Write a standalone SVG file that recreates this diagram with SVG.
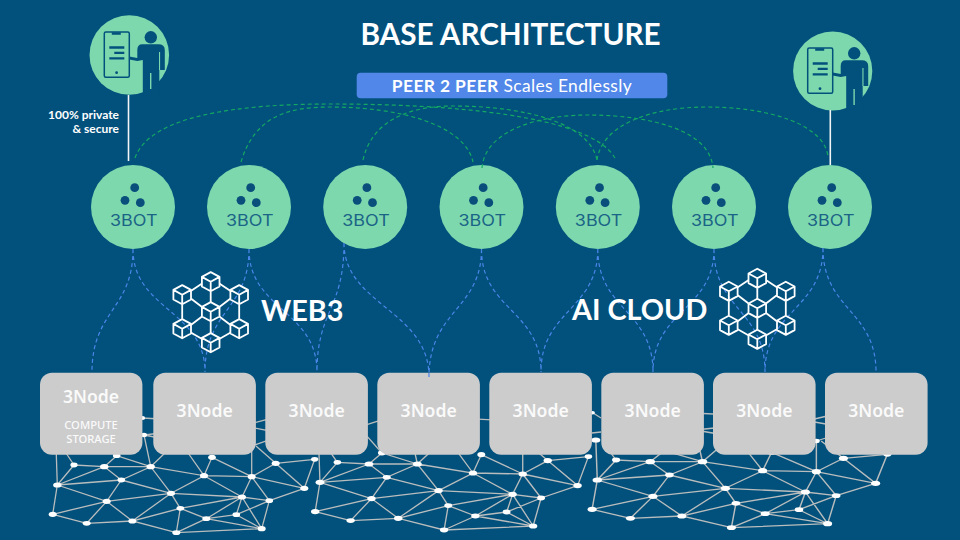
<svg xmlns="http://www.w3.org/2000/svg" xmlns:xlink="http://www.w3.org/1999/xlink" width="960" height="540" viewBox="0 0 960 540">
<style>
.sans{font-family:"Lato","Liberation Sans",sans-serif;fill:#fff}
.box{fill:#cccccc}
.nt{font-family:"Noto Sans","Liberation Sans",sans-serif;fill:#fafafa;text-anchor:middle}
.bot{fill:#7dd8ae}
.dot{fill:#0a4f7c}
.bt{font-family:"Inter","Liberation Sans",sans-serif;font-size:15.5px;fill:#1b6486;text-anchor:middle}
.grn{fill:none;stroke:#14a862;stroke-width:1.2;stroke-dasharray:4 3}
.blu{fill:none;stroke:#4a86e8;stroke-width:1.2;stroke-dasharray:4 3}
.edge{fill:none;stroke:#b9bdbd;stroke-width:1.3}
.mn{fill:#fff}
.ink{fill:#02507c}
.cube{fill:none;stroke:#fff;stroke-width:1.8;stroke-linejoin:round}
</style>
<defs>
<g id="mesh">
<path class="edge" d="M56 445L57.3 485L52.7 514.3M57.3 485L74 465L104.3 466.7L57.3 485L121.3 480L57.3 485L106.7 501.3L52.7 514.3M74 465L64 450M104.3 466.7L116.7 455.7L150.7 466.7L104.3 466.7L121.3 480L150.7 466.7L171 493.3M121.3 480L106.7 501.3M121.3 480L171 493.3M150.7 466.7L204 475.7L171 493.3M150.7 466.7L144 435M150.7 466.7L168 450M204 475.7L242 497M204 475.7L212 457.3L251.7 476.7L204 475.7M204 475.7L186 450M251.7 476.7L242 497M251.7 476.7L269.3 500.7M251.7 476.7L304.3 488.3M251.7 476.7L251.7 446M251.7 476.7L275.7 463.3L304.3 488.3L314.7 459.3M275.7 463.3L314.7 459.3M275.7 463.3L256 446M304.3 488.3L269.3 500.7M171 493.3L106.7 501.3M171 493.3L132.3 521M171 493.3L180.3 508.3M171 493.3L242 497L269.3 500.7M242 497L180.3 508.3M242 497L236.3 514.7M242 497L206.3 518.7M242 497L261.7 528.7M269.3 500.7L236.3 514.7M269.3 500.7L261.7 528.7M236.3 514.7L206.3 518.7M236.3 514.7L261.7 528.7M206.3 518.7L180.3 508.3M206.3 518.7L261.7 528.7M206.3 518.7L176.3 532.7M180.3 508.3L176.3 532.7M180.3 508.3L132.3 521L176.3 532.7L261.7 528.7M132.3 521L86.7 523.3L52.7 514.3M86.7 523.3L106.7 501.3L132.3 521M144 435L170 432M144 435L170 440M142.7 418L246 424M250 424L280 416M250 427L280 433M251.7 446L280 436M116.7 455.7L100 436M100 428L115 423"/>
<g class="mn">
<ellipse cx="74" cy="465" rx="3.6" ry="2.4"/><ellipse cx="104.3" cy="466.7" rx="4.2" ry="2.6"/><ellipse cx="150.7" cy="466.7" rx="4.2" ry="2.6"/><ellipse cx="204" cy="475.7" rx="4" ry="2.6"/><ellipse cx="251.7" cy="476.7" rx="4" ry="2.6"/><ellipse cx="275.7" cy="463.3" rx="4" ry="2.6"/><ellipse cx="304.3" cy="488.3" rx="4" ry="2.6"/><ellipse cx="314.7" cy="459.3" rx="3.6" ry="2.4"/><ellipse cx="57.3" cy="485" rx="4.2" ry="2.6"/><ellipse cx="121.3" cy="480" rx="3.8" ry="2.4"/><ellipse cx="171" cy="493.3" rx="4" ry="2.6"/><ellipse cx="242" cy="497" rx="4" ry="2.6"/><ellipse cx="269.3" cy="500.7" rx="3.8" ry="2.4"/><ellipse cx="106.7" cy="501.3" rx="4" ry="2.6"/><ellipse cx="180.3" cy="508.3" rx="3.8" ry="2.4"/><ellipse cx="236.3" cy="514.7" rx="3.8" ry="2.4"/><ellipse cx="206.3" cy="518.7" rx="4" ry="2.4"/><ellipse cx="52.7" cy="514.3" rx="4" ry="2.6"/><ellipse cx="86.7" cy="523.3" rx="4" ry="2.4"/><ellipse cx="132.3" cy="521" rx="4" ry="2.6"/><ellipse cx="176.3" cy="532.7" rx="4" ry="2.4"/><ellipse cx="261.7" cy="528.7" rx="4" ry="2.6"/><ellipse cx="212" cy="457.3" rx="3.8" ry="2.6"/><ellipse cx="116.7" cy="455.7" rx="3.8" ry="2.4"/><ellipse cx="144" cy="435" rx="3" ry="2.2"/><ellipse cx="142.7" cy="418" rx="2.4" ry="2"/><ellipse cx="56" cy="445" rx="4" ry="2.6"/><ellipse cx="251.7" cy="446" rx="3" ry="2.2"/>
</g>
</g>
<g id="cb"><path d="M0-9.6L8.8-4.8V4.8L0 9.6L-8.8 4.8V-4.8ZM-8.8-4.8L0 0L8.8-4.8M0 0V9.6"/></g>
<g id="chain" class="cube">
<use xlink:href="#cb" href="#cb" y="-30"/><use xlink:href="#cb" href="#cb" x="-28.5" y="-17"/><use xlink:href="#cb" href="#cb" x="28.5" y="-17"/><use xlink:href="#cb" href="#cb"/><use xlink:href="#cb" href="#cb" x="-28.5" y="17"/><use xlink:href="#cb" href="#cb" x="28.5" y="17"/><use xlink:href="#cb" href="#cb" y="31"/>
<path d="M-19.5-21L-9-28M19.5-21L9-28M0-20V-9M-28.5-7V7M28.5-7V7M-19.5-13L-9-5M19.5-13L9-5M-9 5L-19.5 13M9 5L19.5 13M0 10V22M-19.5 21L-9 27M19.5 21L9 27"/>
</g>
<g id="user">
<path class="ink" d="M0 1.5L8 3V-5Q8-10.7 13-10.7H29Q35.5-10.7 35.5-5V15H30V42H13.5V5L8 6L0 4.5Z"/>
<rect x="29.7" y="-3" width="1.1" height="18" class="bot"/>
<rect x="20.7" y="18" width="1.4" height="16" class="bot"/>
<rect x="-25" y="-23" width="25" height="45.3" rx="1.5" fill="none" stroke="#02507c" stroke-width="1.5"/>
<path d="M-17.5-21.5H-8.5M-20-7.5H-5M-15-2.2H-5M-20 3.3H-5" fill="none" stroke="#02507c" stroke-width="2.3"/>
<circle cx="-12.7" cy="17.7" r="1.4" class="ink"/>
<circle cx="21.5" cy="-17.7" r="6.2" class="ink"/>
</g>
<g id="botmark">
<circle r="42" class="bot"/>
<circle cx="1.7" cy="-19.3" r="4.4" class="dot"/><circle cx="-8" cy="-6.7" r="4.4" class="dot"/><circle cx="7.3" cy="-4.3" r="4.4" class="dot"/>
</g>
</defs>
<rect width="960" height="540" fill="#02507c"/>
<g id="mesh-layer">
<use xlink:href="#mesh" href="#mesh"/>
<use xlink:href="#mesh" href="#mesh" transform="matrix(1.043 0 0 1 260.2 -2.7)"/>
<use xlink:href="#mesh" href="#mesh" transform="matrix(1.127 0 0 1 532.7 -5)"/>
<path class="edge" d="M592.7 412.7L601 418M592 433L601 432"/>
<ellipse class="mn" cx="592.7" cy="412.7" rx="2.2" ry="1.8"/>
</g>
<text class="sans" x="510.5" y="45" font-size="29.7" font-weight="700" text-anchor="middle">BASE ARCHITECTURE</text>
<g id="pill"><rect x="356.7" y="72.7" width="310.6" height="25.6" rx="4" fill="#5187e8"/>
<text class="sans" x="512" y="92" font-size="17.4" text-anchor="middle" letter-spacing=".4"><tspan font-weight="700">PEER 2 PEER</tspan> Scales Endlessly</text></g>
<g id="user-left"><circle cx="129.3" cy="55" r="39.8" class="bot"/><use xlink:href="#user" href="#user" x="129.3" y="55"/></g>
<g id="user-right"><circle cx="832.7" cy="71" r="39.6" class="bot"/><use xlink:href="#user" href="#user" x="832.7" y="71"/></g>
<text class="sans" x="119" y="118.5" font-size="12" font-weight="700" text-anchor="end">100% private</text>
<text class="sans" x="119" y="133" font-size="12" font-weight="700" text-anchor="end">&amp; secure</text>
<g id="node-1"><rect class="box" x="40" y="372.7" width="102.4" height="82" rx="12"/><text class="nt" x="91" y="403.3" font-size="17.6" font-weight="600">3Node</text><text class="nt" x="91" y="429" font-size="11.2" font-weight="500">COMPUTE</text><text class="nt" x="91" y="443" font-size="11.2" font-weight="500">STORAGE</text></g>
<g id="node-2"><rect class="box" x="153.3" y="372.7" width="102.6" height="82" rx="12"/><text class="nt" x="204.7" y="417.3" font-size="17.6" font-weight="600">3Node</text></g>
<g id="node-3"><rect class="box" x="265.3" y="372.7" width="102.6" height="82" rx="12"/><text class="nt" x="316.7" y="417.3" font-size="17.6" font-weight="600">3Node</text></g>
<g id="node-4"><rect class="box" x="377.3" y="372.7" width="102.6" height="82" rx="12"/><text class="nt" x="428.7" y="417.3" font-size="17.6" font-weight="600">3Node</text></g>
<g id="node-5"><rect class="box" x="489.3" y="372.7" width="102.6" height="82" rx="12"/><text class="nt" x="540.7" y="417.3" font-size="17.6" font-weight="600">3Node</text></g>
<g id="node-6"><rect class="box" x="601.3" y="372.7" width="102.6" height="82" rx="12"/><text class="nt" x="652.7" y="417.3" font-size="17.6" font-weight="600">3Node</text></g>
<g id="node-7"><rect class="box" x="713" y="372.7" width="102.6" height="82" rx="12"/><text class="nt" x="764.4" y="417.3" font-size="17.6" font-weight="600">3Node</text></g>
<g id="node-8"><rect class="box" x="825" y="372.7" width="102.6" height="82" rx="12"/><text class="nt" x="876.3" y="417.3" font-size="17.6" font-weight="600">3Node</text></g>
<g id="bot-1"><use xlink:href="#botmark" href="#botmark" x="133" y="207"/><text class="bt" x="133.8" y="226" textLength="47.5" lengthAdjust="spacingAndGlyphs">3BOT</text></g>
<g id="bot-2"><use xlink:href="#botmark" href="#botmark" x="249" y="207"/><text class="bt" x="249.8" y="226" textLength="47.5" lengthAdjust="spacingAndGlyphs">3BOT</text></g>
<g id="bot-3"><use xlink:href="#botmark" href="#botmark" x="365.2" y="207"/><text class="bt" x="366" y="226" textLength="47.5" lengthAdjust="spacingAndGlyphs">3BOT</text></g>
<g id="bot-4"><use xlink:href="#botmark" href="#botmark" x="481.5" y="207"/><text class="bt" x="482.3" y="226" textLength="47.5" lengthAdjust="spacingAndGlyphs">3BOT</text></g>
<g id="bot-5"><use xlink:href="#botmark" href="#botmark" x="597.8" y="207"/><text class="bt" x="598.6" y="226" textLength="47.5" lengthAdjust="spacingAndGlyphs">3BOT</text></g>
<g id="bot-6"><use xlink:href="#botmark" href="#botmark" x="714" y="207"/><text class="bt" x="714.8" y="226" textLength="47.5" lengthAdjust="spacingAndGlyphs">3BOT</text></g>
<g id="bot-7"><use xlink:href="#botmark" href="#botmark" x="830" y="207"/><text class="bt" x="830.8" y="226" textLength="47.5" lengthAdjust="spacingAndGlyphs">3BOT</text></g>
<g id="connectors">
<path d="M128.5 95V161M830.3 110V165" stroke="#f2f4f6" stroke-width="1.6" fill="none"/>
<path class="grn" d="M135 158C150 115 240 104 330 104C450 104 590 115 615 158"/>
<path class="grn" d="M241 162C255 115 290 107 330 107C400 107 465 125 473 162"/>
<path class="grn" d="M363 160C372 120 410 106 453 106C530 106 590 125 597 160"/>
<path class="grn" d="M482 168C485 130 540 115 587 115C650 115 710 130 713 168"/>
<path class="grn" d="M597 160C602 125 650 107 707 107C770 107 825 125 828 157"/>
<path class="blu" d="M133 249C133 310 92 310 92 372M133 249C133 310 205 310 205 372M249 249C249 310 205 310 205 372M249 249C249 310 317 310 317 372M344 243C344 310 317 310 317 372M344 243C344 305 429 310 429 377M481.5 249C481.5 310 429 310 429 377M481.5 249C481.5 310 541 310 541 372M597.8 249C597.8 310 541 310 541 372M597.8 249C597.8 310 653 310 653 372M714 249C714 310 653 310 653 372M714 249C714 310 765 310 765 372M823 248C823 310 765 310 765 372M823 248C823 310 876 310 876 372"/>
</g>
<use xlink:href="#chain" href="#chain" x="210.7" y="311.7"/>
<use xlink:href="#chain" href="#chain" x="757.3" y="308.3"/>
<text class="sans" x="261" y="321" font-size="28.8" font-weight="700">WEB3</text>
<text class="sans" x="572" y="320" font-size="28.8" font-weight="700">AI CLOUD</text>
</svg>
